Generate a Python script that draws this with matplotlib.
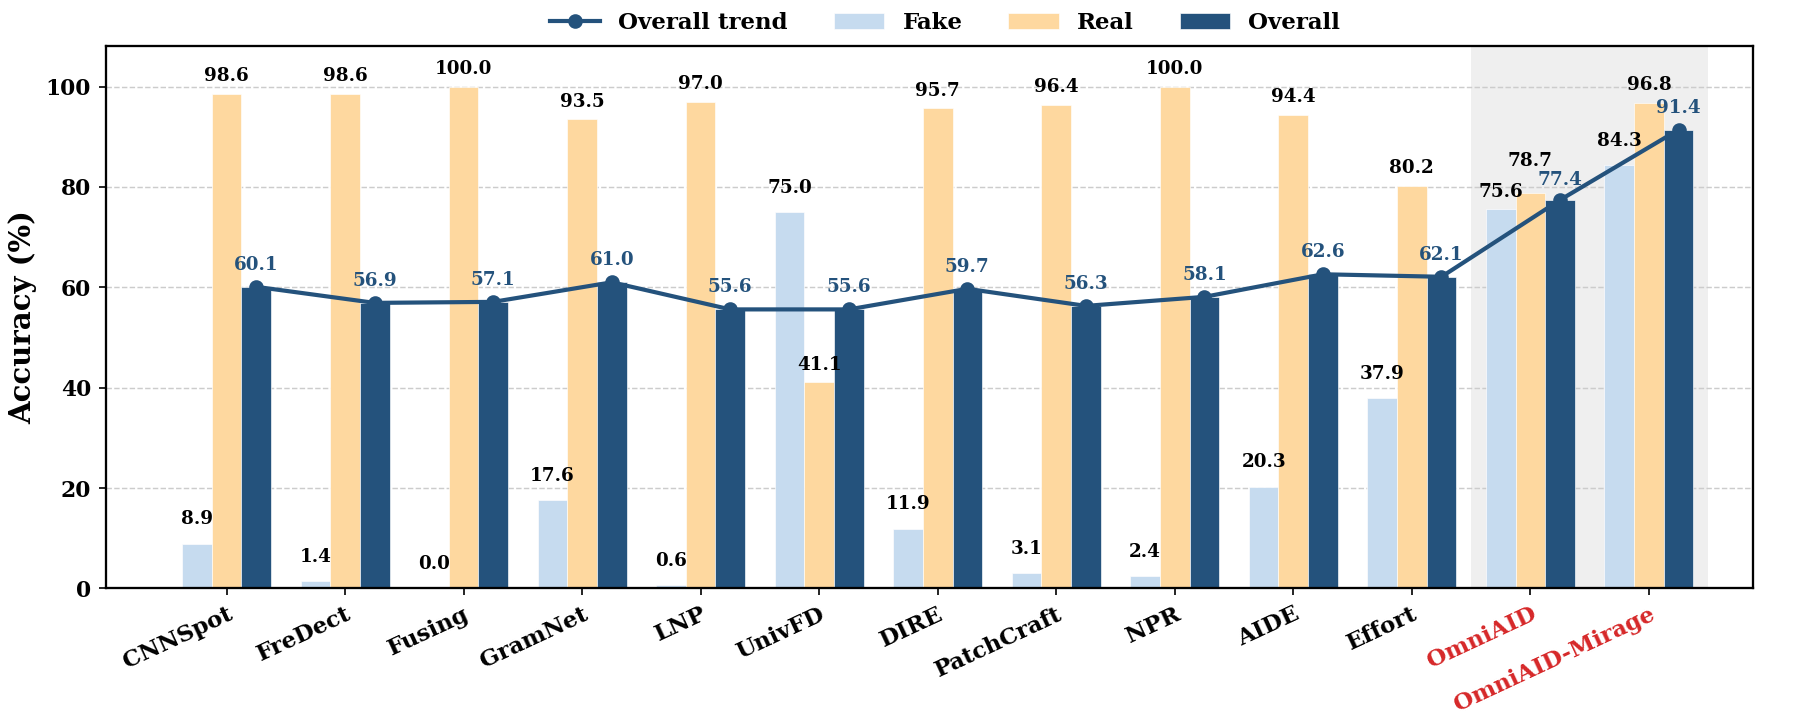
import numpy as np
import matplotlib
matplotlib.use("Agg")
import matplotlib.pyplot as plt

methods = ["CNNSpot", "FreDect", "Fusing", "GramNet", "LNP", "UnivFD", "DIRE",
           "PatchCraft", "NPR", "AIDE", "Effort", "OmniAID", "OmniAID-Mirage"]
fake = [8.9, 1.4, 0.0, 17.6, 0.6, 75.0, 11.9, 3.1, 2.4, 20.3, 37.9, 75.6, 84.3]
real = [98.6, 98.6, 100.0, 93.5, 97.0, 41.1, 95.7, 96.4, 100.0, 94.4, 80.2, 78.7, 96.8]
overall = [60.1, 56.9, 57.1, 61.0, 55.6, 55.6, 59.7, 56.3, 58.1, 62.6, 62.1, 77.4, 91.4]
ours = ["OmniAID", "OmniAID-Mirage"]

c_fake = "#c6dbef"
c_real = "#fed89f"
c_over = "#24527c"
c_red = "#d62728"

plt.rcParams["font.family"] = "DejaVu Serif"
plt.rcParams["font.weight"] = "bold"

fig, ax = plt.subplots(figsize=(12, 4.767), dpi=150)
fig.subplots_adjust(left=0.0587, right=0.974, top=0.935, bottom=0.177)

x = np.arange(len(methods))
w = 0.25

# shaded area behind our methods
ax.axvspan(10.5, 12.5, color="#efefef", zorder=0, lw=0)

b1 = ax.bar(x - w, fake, w, color=c_fake, edgecolor="white", lw=0.3, label="Fake", zorder=2)
b2 = ax.bar(x, real, w, color=c_real, edgecolor="white", lw=0.3, label="Real", zorder=2)
b3 = ax.bar(x + w, overall, w, color=c_over, edgecolor="white", lw=0.3, label="Overall", zorder=2)
ln, = ax.plot(x + w, overall, "-o", color=c_over, lw=2.0, ms=6, label="Overall trend", zorder=4)

# value labels (offsets in points, a few nudged by hand to avoid clashes)
nudge = {("fake", 11): 5.9, ("real", 11): 13.0, ("over", 11): 7.0}

def put_labels(xs, vals, key, off, color):
    for i, (xi, v) in enumerate(zip(xs, vals)):
        dy = nudge.get((key, i), off)
        ax.annotate(f"{v:.1f}", (xi, v), xytext=(0, dy), textcoords="offset points",
                    ha="center", va="baseline", fontsize=8.8, fontweight="bold",
                    color=color, zorder=5)

put_labels(x - w, fake, "fake", 9.3, "black")
put_labels(x, real, "real", 6.0, "black")
put_labels(x + w, overall, "over", 8.2, c_over)

ax.set_xlim(-1.02, 12.88)
ax.set_ylim(0, 108)
ax.set_xticks(x)
ax.set_xticklabels(methods, rotation=25, ha="right", rotation_mode="anchor",
                   fontsize=11, fontweight="bold")
for lab in ax.get_xticklabels():
    if lab.get_text() in ours:
        lab.set_color(c_red)
ax.tick_params(axis="y", labelsize=10.5)
ax.set_ylabel("Accuracy (%)", fontsize=14, fontweight="bold")
ax.yaxis.grid(True, linestyle="--", color="#cccccc", lw=0.7, zorder=0)
ax.set_axisbelow(True)
for s in ax.spines.values():
    s.set_linewidth(1.1)

fig.legend(handles=[ln, b1, b2, b3], loc="center", bbox_to_anchor=(0.525, 0.968),
           ncol=4, frameon=False, fontsize=11, handlelength=2.2, columnspacing=2.0)

plt.savefig("out.png", dpi=150)
